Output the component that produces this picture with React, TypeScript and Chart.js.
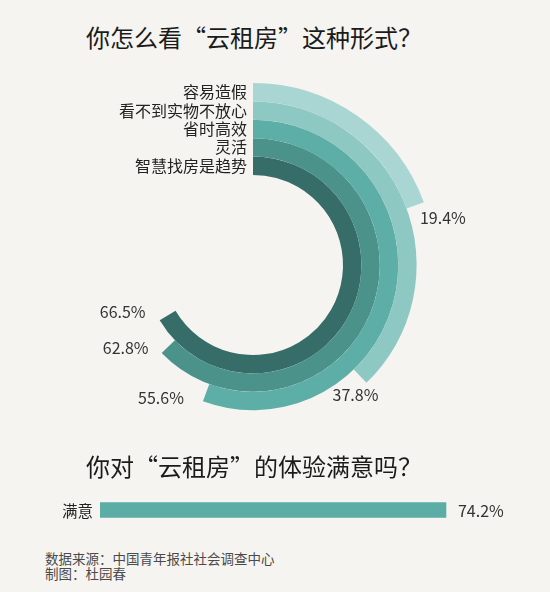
import React, { useEffect, useRef } from 'react';
import { Chart, registerables } from 'chart.js';

Chart.register(...registerables);

const FONT = '"Noto Sans CJK SC", "Noto Sans", sans-serif';

// Ring chart data (outer ring first)
const categories = ['容易造假', '看不到实物不放心', '省时高效', '灵活', '智慧找房是趋势'];
const percentages = [19.4, 37.8, 55.6, 62.8, 66.5];

// Satisfaction bar data
const satisfactionLabels = ['满意'];
const satisfactionValues = [74.2];

const ringColors = ['#a9d6d2', '#8ec8c2', '#5daea6', '#4b928b', '#366d68'];
const barColor = '#5badA5';
const labelOffsets: [number, number][] = [
  [19, 16],
  [-11, 12],
  [-42, -3],
  [-36, -5],
  [-37, -8],
];

function RingChart() {
  const ref = useRef<HTMLCanvasElement>(null);
  useEffect(() => {
    if (!ref.current) return;
    const labelsPlugin = {
      id: 'ringLabels',
      afterDatasetsDraw(chart: any) {
        const ctx = chart.ctx;
        ctx.save();
        ctx.textBaseline = 'middle';
        chart.data.datasets.forEach((ds: any, i: number) => {
          const arc = chart.getDatasetMeta(i).data[0] as any;
          const { x, y, innerRadius, outerRadius, endAngle } = arc.getProps(
            ['x', 'y', 'innerRadius', 'outerRadius', 'endAngle'],
            true
          );
          // category label
          ctx.font = `16px ${FONT}`;
          ctx.fillStyle = '#222222';
          ctx.textAlign = 'right';
          ctx.fillText(categories[i], x - 6, y - (innerRadius + outerRadius) / 2);
          // percentage label
          const cx = x + outerRadius * Math.cos(endAngle);
          const cy = y + outerRadius * Math.sin(endAngle);
          ctx.textAlign = 'center';
          ctx.fillStyle = '#333333';
          ctx.fillText(
            percentages[i].toFixed(1) + '%',
            cx + labelOffsets[i][0],
            cy + labelOffsets[i][1]
          );
        });
        ctx.restore();
      },
    };
    const chart = new Chart(ref.current, {
      type: 'doughnut',
      data: {
        labels: ['value', 'rest'],
        datasets: percentages.map((v, i) => ({
          label: categories[i],
          data: [v, 100 - v],
          backgroundColor: [ringColors[i], 'rgba(0,0,0,0)'],
          borderWidth: 0,
          hoverBorderWidth: 0,
          hoverOffset: 0,
          offset: 0,
        })),
      },
      options: {
        responsive: false,
        animation: false,
        events: [],
        cutout: 90,
        rotation: 0,
        circumference: 360,
        layout: { padding: { left: 71, right: 115, top: 28, bottom: 8 } },
        plugins: {
          legend: { display: false },
          tooltip: { enabled: false },
        },
      },
      plugins: [labelsPlugin],
    });
    return () => chart.destroy();
  }, []);
  return (
    <canvas
      ref={ref}
      width={550}
      height={400}
      style={{ position: 'absolute', left: 0, top: 55, width: 550, height: 400 }}
    />
  );
}

function SatisfactionBar() {
  const ref = useRef<HTMLCanvasElement>(null);
  useEffect(() => {
    if (!ref.current) return;
    const barLabels = {
      id: 'barLabels',
      afterDatasetsDraw(chart: any) {
        const ctx = chart.ctx;
        const meta = chart.getDatasetMeta(0);
        ctx.save();
        ctx.textBaseline = 'middle';
        meta.data.forEach((bar: any, i: number) => {
          const { x, y, base } = bar.getProps(['x', 'y', 'base'], true);
          ctx.font = `15.5px ${FONT}`;
          ctx.fillStyle = '#222222';
          ctx.textAlign = 'right';
          ctx.fillText(satisfactionLabels[i], base - 7, y + 1);
          ctx.font = `16px ${FONT}`;
          ctx.fillStyle = '#333333';
          ctx.textAlign = 'left';
          ctx.fillText(satisfactionValues[i].toFixed(1) + '%', x + 12, y + 1);
        });
        ctx.restore();
      },
    };
    const chart = new Chart(ref.current, {
      type: 'bar',
      data: {
        labels: satisfactionLabels,
        datasets: [
          {
            data: satisfactionValues,
            backgroundColor: barColor,
            borderWidth: 0,
            barThickness: 15,
          },
        ],
      },
      options: {
        indexAxis: 'y',
        responsive: false,
        animation: false,
        events: [],
        layout: { padding: { left: 100, right: 77, top: 0, bottom: 0 } },
        scales: {
          x: { display: false, min: 0, max: 80 },
          y: { display: false },
        },
        plugins: {
          legend: { display: false },
          tooltip: { enabled: false },
        },
      },
      plugins: [barLabels],
    });
    return () => chart.destroy();
  }, []);
  return (
    <canvas
      ref={ref}
      width={550}
      height={40}
      style={{ position: 'absolute', left: 0, top: 490, width: 550, height: 40 }}
    />
  );
}

export default function App() {
  const titleStyle: React.CSSProperties = {
    position: 'absolute',
    left: 86,
    fontFamily: FONT,
    fontSize: 24,
    lineHeight: '30px',
    color: '#1b1b1b',
    whiteSpace: 'nowrap',
    margin: 0,
  };
  return (
    <div
      style={{
        position: 'absolute',
        left: 0,
        top: 0,
        width: 550,
        height: 592,
        background: '#f5f4f0',
        overflow: 'hidden',
      }}
    >
      <div style={{ ...titleStyle, top: 22 }}>你怎么看“云租房”这种形式？</div>
      <RingChart />
      <div style={{ ...titleStyle, top: 451 }}>你对“云租房”的体验满意吗？</div>
      <SatisfactionBar />
      <div
        style={{
          position: 'absolute',
          left: 45,
          top: 551,
          fontFamily: FONT,
          fontSize: 13.5,
          lineHeight: '14.5px',
          color: '#4a4a4a',
          whiteSpace: 'nowrap',
        }}
      >
        <div>数据来源：中国青年报社社会调查中心</div>
        <div>制图：杜园春</div>
      </div>
    </div>
  );
}
